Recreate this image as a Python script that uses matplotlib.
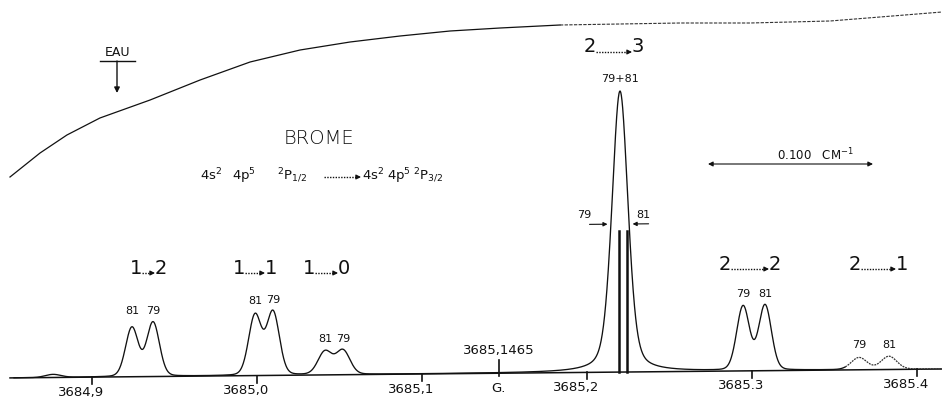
import numpy as np
import matplotlib
matplotlib.use("Agg")
import matplotlib.pyplot as plt
import matplotlib.transforms as mtransforms

# ---------------- data ----------------
# wavenumber axis (cm-1)
tick_values = [3684.9, 3685.0, 3685.1, 3685.2, 3685.3, 3685.4]
tick_labels = ["3684,9", "3685,0", "3685,1", "3685,2", "3685.3", "3685.4"]

ref_value = 3685.1465
ref_label = "3685,1465"
ref_mark = "G."

# hyperfine components of the Br line
comp_isotope = ["", "81", "79", "81", "79", "81", "79", "79+81", "79", "81", "79", "81"]
comp_group = [0, 1, 1, 2, 2, 3, 3, 4, 5, 5, 6, 6]
comp_position = [3684.8764, 3684.9242, 3684.9370, 3684.9988, 3685.0097,
                 3685.0412, 3685.0521, 3685.2200, 3685.2946, 3685.3079,
                 3685.3649, 3685.3830]
comp_height = [3, 49, 54, 60, 63, 23, 24, 281, 64, 65, 12, 13]
comp_fwhm = [0.0110, 0.0091, 0.0091, 0.0091, 0.0091, 0.0100, 0.0100,
             0.0115, 0.0091, 0.0091, 0.0112, 0.0112]
comp_lorentz = [0.0, 0.12, 0.12, 0.12, 0.12, 0.12, 0.12, 0.35, 0.12, 0.12, 0.12, 0.12]

# isotope positions inside the unresolved 2 -> 3 component
iso_bar_position = [3685.2191, 3685.2240]
iso_bar_height = [141, 141]
iso_bar_label = ["79", "81"]

# water vapour absorption trace (top curve)
water_x = [3684.8503, 3684.8685, 3684.8848, 3684.9048, 3684.9352, 3684.9655,
           3684.9958, 3685.0261, 3685.0564, 3685.0867, 3685.1170, 3685.1473,
           3685.1836, 3685.2200, 3685.2564, 3685.2988, 3685.3473, 3685.3776,
           3685.4152]
water_y = [201, 225, 243, 260, 278, 298, 316, 328, 336, 342, 347, 350,
           353, 354, 355, 355, 357, 361, 366]

# transition labels F -> F'
tr_lower = ["1", "1", "1", "2", "2", "2"]
tr_upper = ["2", "1", "0", "3", "2", "1"]

title_text = "BROME"
config_parts = [r"$\mathregular{4s^2}$", r"$\mathregular{4p^5}$", r"$\mathregular{{}^2P_{1/2}}$",
                r"$\mathregular{4s^2}$", r"$\mathregular{4p^5}$", r"$\mathregular{{}^2P_{3/2}}$"]
water_text = "EAU"
scale_length = 0.100
scale_text = r"0.100   CM$^{-1}$"

# ---------------- figure ----------------
W, H = 942, 400
fig = plt.figure(figsize=(W / 100, H / 100), dpi=100)
ax = fig.add_axes([0, 0, 1, 1])
ax.set_axis_off()

px_per_cm = 1650.0
x_left = 3684.9 - 92 / px_per_cm
x_right = x_left + W / px_per_cm
ax.set_xlim(x_left, x_right)
ax.set_ylim(-22, 378)

# recorder trace is slightly tilted: baseline climbs 9 px across the chart
tilt = mtransforms.Affine2D().skew(0, np.arctan(9.0 / W))
spec = ax.transData + tilt
# pixel coordinates from the top-left corner
pix = mtransforms.Affine2D().scale(1, -1).translate(0, H)
ink = "#111111"


def px2cm(p):
    return x_left + p / px_per_cm


def line_profile(x, x0, h, fwhm, eta):
    u = (x - x0) / fwhm
    g = np.exp(-4 * np.log(2) * u ** 2)
    lo = 1.0 / (1.0 + 4 * u ** 2)
    return h * ((1 - eta) * g + eta * lo)


x = np.linspace(px2cm(14), x_right, 4000)
y = np.zeros_like(x)
for p0, h, fw, eta in zip(comp_position, comp_height, comp_fwhm, comp_lorentz):
    y += line_profile(x, p0, h, fw, eta)

# baseline / axis
ax.plot([px2cm(10), x_right], [0, 0], color=ink, lw=1.1, transform=spec)
# pen trace: solid, fading to a dotted stroke on the far right
split = px2cm(845)
m1 = x <= split
m2 = x >= split
ax.plot(x[m1], y[m1], color=ink, lw=0.95, transform=spec, solid_joinstyle="round")
ax.plot(x[m2], y[m2], color="#333333", lw=0.9, ls=(0, (1.5, 0.8)), transform=spec)

# ticks and labels
for tv, tl in zip(tick_values, tick_labels):
    ax.plot([tv, tv], [0, -7], color=ink, lw=1.2, transform=spec)
    ax.text(tv - 11 / px_per_cm, -15, tl, transform=spec, ha="center", va="center",
            fontsize=9.5, color=ink)

ax.plot([ref_value, ref_value], [-3, 13], color=ink, lw=1.2, transform=spec)
ax.text(ref_value, 23, ref_label, transform=spec, ha="center", va="center",
        fontsize=9.5, color=ink)
ax.text(ref_value, -15, ref_mark, transform=spec, ha="center", va="center",
        fontsize=9.5, color=ink)

# isotope labels above each component group
group_top = {}
for g, h in zip(comp_group, comp_height):
    group_top[g] = max(group_top.get(g, 0), h)
for iso, g, p0 in zip(comp_isotope, comp_group, comp_position):
    if iso:
        ax.text(p0, group_top[g] + 12, iso, transform=spec, ha="center", va="center",
                fontsize=8, color=ink)

# isotope bars inside the 2 -> 3 line
for bp, bh in zip(iso_bar_position, iso_bar_height):
    ax.plot([bp, bp], [0, bh], color=ink, lw=1.8, transform=spec)

bar_top = 378 - 233 + 3  # arrow level in data units
ax.text(iso_bar_position[0] - 34 / px_per_cm, bar_top + 9, iso_bar_label[0], transform=spec,
        ha="center", va="center", fontsize=8, color=ink)
ax.annotate("", xy=(iso_bar_position[0] - 11 / px_per_cm, bar_top),
            xytext=(iso_bar_position[0] - 29 / px_per_cm, bar_top),
            xycoords=spec, textcoords=spec,
            arrowprops=dict(arrowstyle="-|>", lw=0.8, color=ink, mutation_scale=6,
                            shrinkA=0, shrinkB=0))
ax.text(iso_bar_position[1] + 17 / px_per_cm, bar_top + 9, iso_bar_label[1], transform=spec,
        ha="center", va="center", fontsize=8, color=ink)
ax.annotate("", xy=(iso_bar_position[1] + 6 / px_per_cm, bar_top),
            xytext=(iso_bar_position[1] + 22 / px_per_cm, bar_top),
            xycoords=spec, textcoords=spec,
            arrowprops=dict(arrowstyle="-|>", lw=0.8, color=ink, mutation_scale=6,
                            shrinkA=0, shrinkB=0))

# water absorption trace: solid on the left, broken pen stroke on the right
k = 12
ax.plot(water_x[:k + 1], water_y[:k + 1], color=ink, lw=0.9)
ax.plot(water_x[k:], water_y[k:], color="#333333", lw=0.8, ls=(0, (3, 1.2)))


def dotted_arrow(x0, x1, yy, trans):
    ax.plot([x0, x1 - 3], [yy, yy], color=ink, lw=1.0, ls=(0, (1, 1)), transform=trans)
    ax.annotate("", xy=(x1, yy), xytext=(x1 - 4, yy), xycoords=trans, textcoords=trans,
                arrowprops=dict(arrowstyle="-|>", lw=0.8, color=ink, mutation_scale=7,
                                shrinkA=0, shrinkB=0))


# transition labels (pixel placement)
tr_x_left = [136, 239, 309, 590, 725, 855]
tr_x_right = [161, 271, 344, 638, 775, 902]
tr_y = [268, 268, 268, 47, 264, 264]
for lo_, up_, xl, xr, yy in zip(tr_lower, tr_upper, tr_x_left, tr_x_right, tr_y):
    ax.text(xl, yy, lo_, transform=pix, ha="center", va="center", fontsize=14, color=ink)
    ax.text(xr, yy, up_, transform=pix, ha="center", va="center", fontsize=14, color=ink)
    dotted_arrow(xl + 6, xr - 6, yy + 5, pix)

# title and electronic configuration
ax.text(319, 139, title_text, transform=pix, ha="center", va="center", fontsize=14,
        color=ink, fontweight="light")
config_x = [200, 232, 277, 362, 387, 413]
for part, cx in zip(config_parts, config_x):
    ax.text(cx, 180, part, transform=pix, ha="left", va="baseline", fontsize=9.5, color=ink)
dotted_arrow(324, 361, 177, pix)

# water marker
ax.text(118, 53, water_text, transform=pix, ha="center", va="center", fontsize=9,
        color=ink)
ax.plot([100, 135], [61, 61], color=ink, lw=1.0, transform=pix)
ax.annotate("", xy=(117, 93), xytext=(117, 61), xycoords=pix, textcoords=pix,
            arrowprops=dict(arrowstyle="-|>", lw=1.0, color=ink, mutation_scale=8,
                            shrinkA=0, shrinkB=0))

# 0.1 cm-1 scale bar
scale_start = px2cm(708)
blend = mtransforms.blended_transform_factory(ax.transData, pix)
ax.annotate("", xy=(scale_start + scale_length, 164), xytext=(scale_start, 164),
            xycoords=blend, textcoords=blend,
            arrowprops=dict(arrowstyle="<|-|>", lw=0.8, color=ink, mutation_scale=7,
                            shrinkA=0, shrinkB=0))
ax.text(scale_start + 0.65 * scale_length, 155, scale_text, transform=blend, ha="center",
        va="center", fontsize=8.5, color=ink)

fig.savefig("out.png", dpi=100, facecolor="white")
